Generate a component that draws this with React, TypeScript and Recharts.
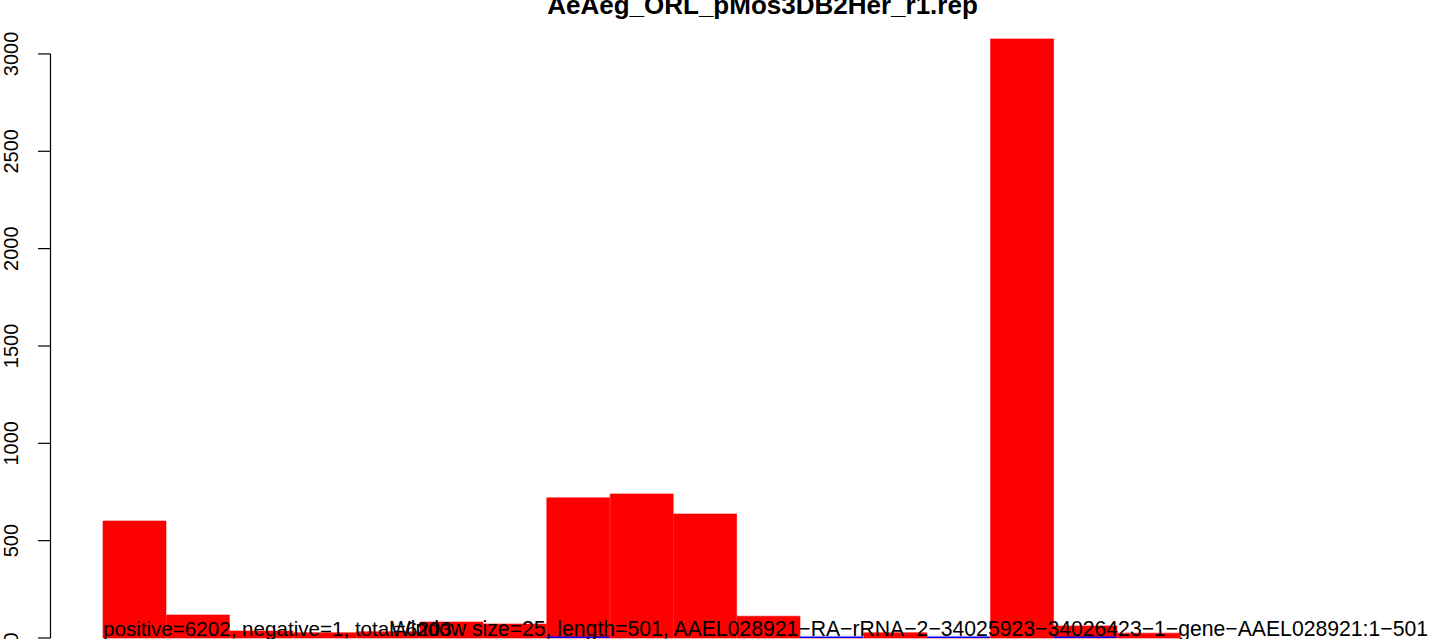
import React from "react";
import { BarChart, Bar, XAxis, YAxis } from "recharts";

// sliding windows of 25 bp over the 501 bp feature
const windows = [
  "1", "26", "51", "76", "101", "126", "151", "176", "201", "226",
  "251", "276", "301", "326", "351", "376", "401", "426", "451", "476",
];
const positiveCounts = [
  601, 118, 36, 27, 32, 82, 72, 720, 740, 637,
  112, 3, 27, 3, 3077, 62, 25, 0, 0, 0,
];
const negativeCounts = [
  0, 0, 0, 0, 0, 0, 0, 8, 0, 0,
  0, 8, 0, 8, 0, 8, 0, 0, 0, 0,
];
const yTicks = [0, 500, 1000, 1500, 2000, 2500, 3000];

const title = "AeAeg_ORL_pMos3DB2Her_r1.rep";
const statsText = "positive=6202, negative=1, total=6203";
const infoText =
  "Window size=25, length=501, AAEL028921\u2212RA\u2212rRNA\u22122\u221234025923\u221234026423\u22121\u2212gene\u2212AAEL028921:1\u2212501";

const W = 1429;
const H = 639;
const MARGIN = { top: 15, right: 6, bottom: 1, left: 0 };
const Y_MAX = 3200;
const PX_PER_UNIT = (H - MARGIN.top - MARGIN.bottom) / Y_MAX;
const AXIS_X = 50.5;
const FONT = '"Liberation Sans", Arial, Helvetica, sans-serif';

const data = windows.map((w, i) => ({
  window: w,
  positive: positiveCounts[i],
  negative: negativeCounts[i],
}));

const YTick = (props: any) => {
  const { y, payload, index } = props;
  const top = yTicks[yTicks.length - 1];
  return (
    <g>
      {index === 0 && (
        <line
          x1={AXIS_X}
          x2={AXIS_X}
          y1={y}
          y2={y - top * PX_PER_UNIT}
          stroke="#000"
          strokeWidth={1.2}
        />
      )}
      <line x1={AXIS_X - 12.5} x2={AXIS_X} y1={y} y2={y} stroke="#000" strokeWidth={1.2} />
      <text
        x={18}
        y={y}
        transform={`rotate(-90, 18, ${y})`}
        textAnchor="middle"
        fontFamily={FONT}
        fontSize={20}
        fill="#000"
      >
        {payload.value}
      </text>
    </g>
  );
};

export default function App() {
  return (
    <div
      style={{
        position: "absolute",
        left: 0,
        top: 0,
        width: W,
        height: H,
        background: "#fff",
        overflow: "hidden",
      }}
    >
      <BarChart
        width={W}
        height={H}
        data={data}
        margin={MARGIN}
        barCategoryGap={0}
        barGap="-100%"
      >
        <XAxis
          dataKey="window"
          padding={{ left: 52, right: 52 }}
          height={0}
          tick={false}
          tickLine={false}
          axisLine={{ stroke: "#555", strokeWidth: 1.2 }}
        />
        <YAxis
          domain={[0, Y_MAX]}
          ticks={yTicks}
          width={51}
          axisLine={false}
          tickLine={false}
          tick={<YTick />}
          interval={0}
        />
        <Bar
          dataKey="positive"
          fill="#ff0000"
          stroke="#ff0000"
          strokeWidth={0.6}
          isAnimationActive={false}
        />
        <Bar dataKey="negative" fill="#0000ff" isAnimationActive={false} />
      </BarChart>
      <svg
        width={W}
        height={H}
        style={{ position: "absolute", left: 0, top: 0, pointerEvents: "none" }}
      >
        <text
          x={762.5}
          y={14}
          textAnchor="middle"
          fontFamily={FONT}
          fontWeight="bold"
          fontSize={26}
          fill="#000"
        >
          {title}
        </text>
        <text x={103} y={636} fontFamily={FONT} fontSize={20.6} fill="#000">
          {statsText}
        </text>
        <text x={1428} y={636} textAnchor="end" fontFamily={FONT} fontSize={21.2} fill="#000">
          {infoText}
        </text>
      </svg>
    </div>
  );
}
